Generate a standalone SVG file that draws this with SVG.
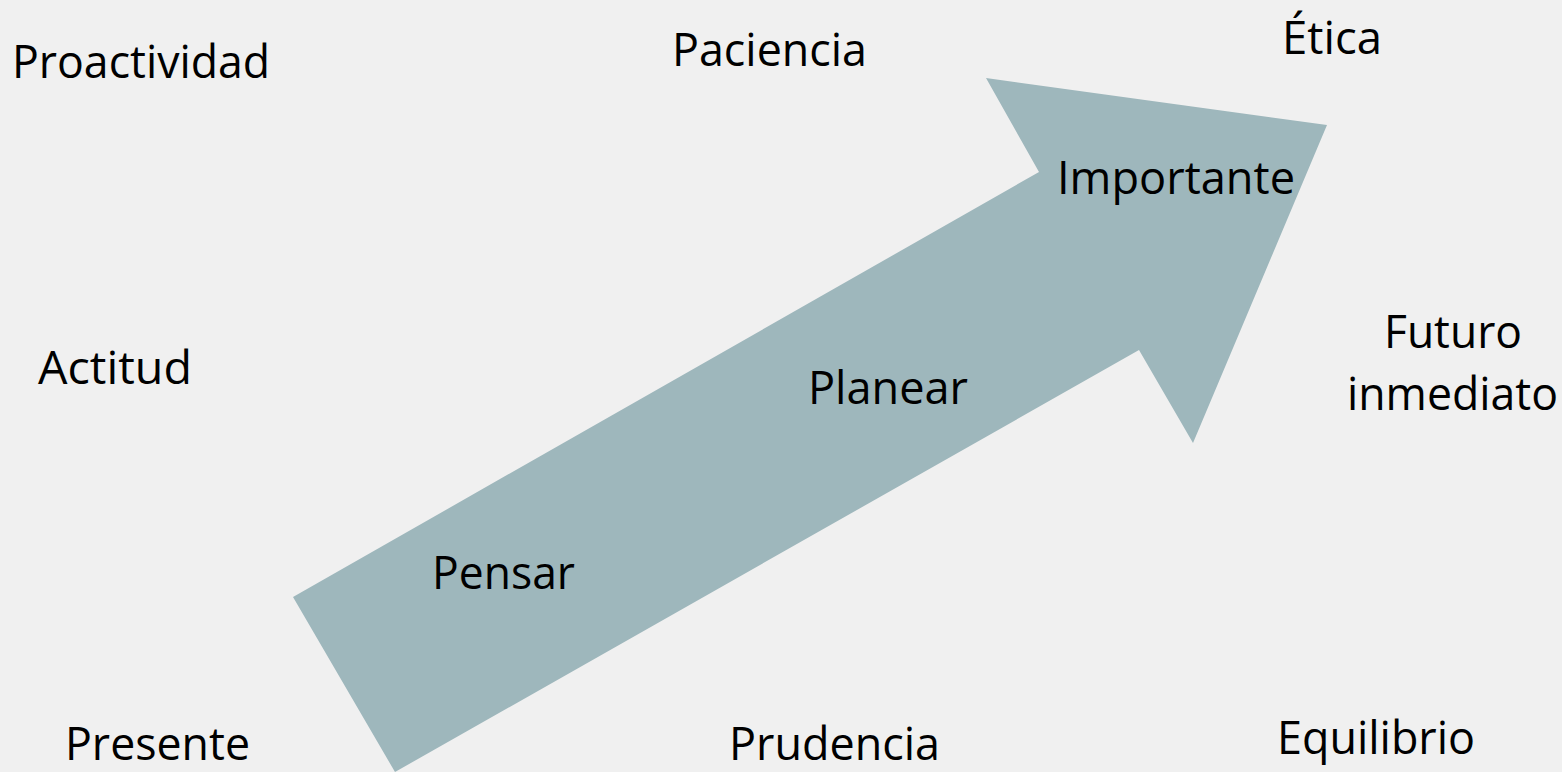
<svg xmlns="http://www.w3.org/2000/svg" width="1562" height="772" viewBox="0 0 1562 772">
<style>
text{font-family:"Open Sans","Noto Sans","Liberation Sans",sans-serif;font-size:46px;fill:#000;}
.arrow{fill:#9eb7bc;}
</style>
<rect width="1562" height="772" fill="#f0f0f0"/>
<g id="connectors">
<polygon id="arrow" class="arrow" points="293,597 1039,172 986,78 1327,125 1193,443 1139,350 395,772"/>
</g>
<g id="node-proactividad"><text x="12" y="78" textLength="258" lengthAdjust="spacingAndGlyphs">Proactividad</text></g>
<g id="node-paciencia"><text x="672" y="66" textLength="195" lengthAdjust="spacingAndGlyphs">Paciencia</text></g>
<g id="node-etica"><text x="1282" y="54" textLength="100" lengthAdjust="spacingAndGlyphs">Ética</text></g>
<g id="node-importante"><text x="1057" y="194" textLength="238" lengthAdjust="spacingAndGlyphs">Importante</text></g>
<g id="node-futuro"><text x="1384" y="348" textLength="138" lengthAdjust="spacingAndGlyphs">Futuro</text><text x="1347" y="410" textLength="211" lengthAdjust="spacingAndGlyphs">inmediato</text></g>
<g id="node-actitud"><text x="38" y="384" textLength="154" lengthAdjust="spacingAndGlyphs">Actitud</text></g>
<g id="node-planear"><text x="808" y="404" textLength="160" lengthAdjust="spacingAndGlyphs">Planear</text></g>
<g id="node-pensar"><text x="432" y="589" textLength="143" lengthAdjust="spacingAndGlyphs">Pensar</text></g>
<g id="node-presente"><text x="65" y="760" textLength="185" lengthAdjust="spacingAndGlyphs">Presente</text></g>
<g id="node-prudencia"><text x="729" y="760" textLength="211" lengthAdjust="spacingAndGlyphs">Prudencia</text></g>
<g id="node-equilibrio"><text x="1277" y="754" textLength="198" lengthAdjust="spacingAndGlyphs">Equilibrio</text></g>
</svg>
